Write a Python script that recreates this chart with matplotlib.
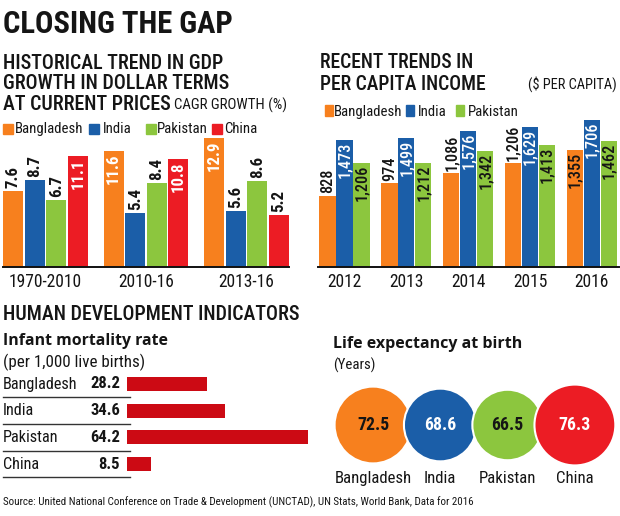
import matplotlib
matplotlib.use('Agg')
import matplotlib.pyplot as plt
from matplotlib import font_manager as fm
import matplotlib.transforms as mtransforms
from matplotlib.patches import Circle, Rectangle
import numpy as np

# ---------------- data ----------------
gdp_periods = ['1970-2010', '2010-16', '2013-16']
gdp_countries = ['Bangladesh', 'India', 'Pakistan', 'China']
gdp_bangladesh = [7.6, 11.6, 12.9]
gdp_india = [8.7, 5.4, 5.6]
gdp_pakistan = [6.7, 8.4, 8.6]
gdp_china = [11.1, 10.8, 5.2]

pci_years = ['2012', '2013', '2014', '2015', '2016']
pci_countries = ['Bangladesh', 'India', 'Pakistan']
pci_bangladesh = [828, 974, 1086, 1206, 1355]
pci_india = [1473, 1499, 1576, 1629, 1706]
pci_pakistan = [1206, 1212, 1342, 1413, 1462]

imr_countries = ['Bangladesh', 'India', 'Pakistan', 'China']
imr_values = [28.2, 34.6, 64.2, 8.5]

le_countries = ['Bangladesh', 'India', 'Pakistan', 'China']
le_values = [72.5, 68.6, 66.5, 76.3]

# ---------------- style ----------------
ORANGE = '#F7801E'
BLUE = '#1B5EA8'
GREEN = '#8CC63E'
RED = '#EC1C24'
DARKRED = '#CC0A14'
INK = '#151515'
COLORS = [ORANGE, BLUE, GREEN, RED]

names = {f.name for f in fm.fontManager.ttflist}


def has_bold(name):
    for f in fm.fontManager.ttflist:
        if f.name == name:
            w = f.weight
            if isinstance(w, str):
                if 'bold' in w.lower() or w.lower() in ('heavy', 'black'):
                    return True
            elif w >= 600:
                return True
    return False


NARROW = {}
for cand in ['Roboto Condensed', 'Liberation Sans Narrow', 'Open Sans Condensed']:
    if cand in names:
        NARROW = {'family': cand}
        break
if not NARROW:
    NARROW = {'family': 'Liberation Sans' if 'Liberation Sans' in names else 'DejaVu Sans'}

HUMAN = {'family': 'DejaVu Sans'}
for cand in ['Noto Sans', 'Open Sans', 'Lato', 'Roboto', 'DejaVu Sans']:
    if cand in names and has_bold(cand):
        HUMAN = {'family': cand}
        break

W, H = 620, 516
fig = plt.figure(figsize=(W / 100, H / 100), dpi=100)
fig.patch.set_facecolor('white')
renderer = fig.canvas.get_renderer()
PX = mtransforms.Affine2D().scale(1 / W, -1 / H).translate(0, 1) + fig.transFigure


def fit_size(s, width, **kw):
    t = fig.text(0, 0, s, fontsize=10, **kw)
    w = t.get_window_extent(renderer).width
    t.remove()
    return 10 * width / w


def txt(x, y, s, width, ha='left', va='baseline', color=INK, **kw):
    size = fit_size(s, width, **kw)
    return fig.text(x, y, s, transform=PX, fontsize=size, ha=ha, va=va, color=color, **kw)


def axes_px(x0, y0, x1, y1):
    return fig.add_axes([x0 / W, 1 - y1 / H, (x1 - x0) / W, (y1 - y0) / H])


def clean(ax, bottom=False):
    for k, sp in ax.spines.items():
        sp.set_visible(k == 'bottom' and bottom)
    ax.spines['bottom'].set_color('#111111')
    ax.spines['bottom'].set_linewidth(1.4)
    ax.set_xticks([])
    ax.set_yticks([])
    ax.patch.set_alpha(0)


# ---------------- headings ----------------
txt(3, 33, 'CLOSING THE GAP', 229, fontweight='bold', **NARROW)
sub_size = fit_size('HISTORICAL TREND IN GDP', 219, fontweight='medium', **NARROW)
for yb, line in zip([69, 89, 110], ['HISTORICAL TREND IN GDP', 'GROWTH IN DOLLAR TERMS', 'AT CURRENT PRICES']):
    fig.text(3, yb, line, transform=PX, fontsize=sub_size, color=INK, va='baseline',
             fontweight='medium', **NARROW)
txt(174, 110, 'CAGR GROWTH (%)', 113, **NARROW)

# legend left
leg_items = [(3, 15), (89, 103), (146, 157), (212, 224)]
lsize = fit_size('Bangladesh', 68, **NARROW)
for (sx, tx), name, c in zip(leg_items, gdp_countries, COLORS):
    fig.patches.append(Rectangle((sx, 124), 10, 10, transform=PX, color=c))
    fig.text(tx, 133, name, transform=PX, fontsize=lsize, color=INK, va='baseline', **NARROW)

# ---------------- left bar chart ----------------
axL = axes_px(3, 130, 289, 267)
clean(axL, bottom=True)
xg = np.arange(len(gdp_periods))
step, bw = 0.214, 0.199
vsize = fit_size('11.1', 31, fontweight='bold', **NARROW)
for i, (vals, c) in enumerate(zip([gdp_bangladesh, gdp_india, gdp_pakistan, gdp_china], COLORS)):
    xs = xg + (i - 1.5) * step
    axL.bar(xs, vals, width=bw, color=c)
    for x, v in zip(xs, vals):
        if v > 10:
            axL.text(x, v - 0.25, f'{v:.1f}', rotation=90, ha='center', va='top',
                     color='white', fontsize=vsize, fontweight='bold', **NARROW)
        else:
            axL.text(x, v + 0.3, f'{v:.1f}', rotation=90, ha='center', va='bottom',
                     color=INK, fontsize=vsize, fontweight='bold', **NARROW)
axL.set_xlim(-0.423, 2.423)
axL.set_ylim(0, 13.7)
bL = mtransforms.blended_transform_factory(axL.transData, PX)
psize = fit_size('1970-2010', 73, **NARROW)
for x, lab in zip(xg, gdp_periods):
    axL.text(x, 287, lab, transform=bL, ha='center', va='baseline', fontsize=psize, color=INK, **NARROW)

# ---------------- right headings ----------------
rsize = fit_size('RECENT TRENDS IN', 153, fontweight='medium', **NARROW)
fig.text(320, 68, 'RECENT TRENDS IN', transform=PX, fontsize=rsize, color=INK, fontweight='medium', **NARROW)
fig.text(320, 90, 'PER CAPITA INCOME', transform=PX, fontsize=rsize, color=INK, fontweight='medium', **NARROW)
txt(528, 89, '($ PER CAPITA)', 89, **NARROW)
leg2 = [(325, 334), (406, 418), (456, 468)]
for (sx, tx), name, c in zip(leg2, pci_countries, COLORS):
    fig.patches.append(Rectangle((sx, 105), 8, 11, transform=PX, color=c))
    fig.text(tx, 116, name, transform=PX, fontsize=lsize, color=INK, va='baseline', **NARROW)

# ---------------- right bar chart ----------------
axR = axes_px(318, 115, 619, 267)
clean(axR, bottom=True)
xr = np.arange(len(pci_years))
step2 = 0.274
nsize = fit_size('1,473', 36, fontweight='medium', **NARROW)
for i, (vals, c) in enumerate(zip([pci_bangladesh, pci_india, pci_pakistan], COLORS)):
    xs = xr + (i - 1) * step2
    axR.bar(xs, vals, width=step2 * 0.97, color=c)
    for x, v in zip(xs, vals):
        lab = f'{v:,}'
        if i == 0 and v < 1300:
            axR.text(x, v + 25, lab, rotation=90, ha='center', va='bottom', color=INK,
                     fontsize=nsize, fontweight='medium', **NARROW)
        else:
            axR.text(x, v - 20, lab, rotation=90, ha='center', va='top',
                     color='white' if i == 1 else INK, fontsize=nsize, fontweight='medium', **NARROW)
axR.set_xlim(-0.427, 4.44)
axR.set_ylim(0, 1763)
bR = mtransforms.blended_transform_factory(axR.transData, PX)
for x, lab in zip(xr, pci_years):
    axR.text(x, 287, lab, transform=bR, ha='center', va='baseline', fontsize=psize, color=INK, **NARROW)

# ---------------- human development ----------------
txt(3, 320, 'HUMAN DEVELOPMENT INDICATORS', 295, fontweight='medium', **NARROW)
txt(3, 345, 'Infant mortality rate', 165, fontweight='bold', **HUMAN)
txt(3, 367, '(per 1,000 live births)', 140, **NARROW)

axI = axes_px(127, 370, 320, 480)
clean(axI)
yi = np.arange(len(imr_countries))
axI.barh(yi, imr_values, height=0.525, color=DARKRED)
axI.set_xlim(0, 193 / 2.82)
axI.set_ylim((480 - 384) / 26.67, (370 - 384) / 26.67)
bI = mtransforms.blended_transform_factory(PX, axI.transData)
csize = fit_size('Bangladesh', 75, **NARROW)
isize = fit_size('28.2', 30, fontweight='bold', **NARROW)
for y, name, v in zip(yi, imr_countries, imr_values):
    axI.text(3, y, name, transform=bI, ha='left', va='center', fontsize=csize, color=INK, **NARROW)
    axI.text(120, y, f'{v:.1f}', transform=bI, ha='right', va='center', fontsize=isize,
             color=INK, fontweight='bold', **NARROW)
    axI.plot([3, 130], [y + 0.5, y + 0.5], transform=bI, color='#333333', lw=1, clip_on=False)

# ---------------- life expectancy ----------------
txt(333, 348, 'Life expectancy at birth', 190, fontweight='bold', **HUMAN)
txt(333, 370, '(Years)', 42, **NARROW)

axC = axes_px(330, 380, 620, 470)
clean(axC)
axC.set_xlim(0, 290)
axC.set_ylim(0, 90)
bC = mtransforms.blended_transform_factory(axC.transData, PX)
lsz = fit_size('72.5', 32, fontweight='bold', **NARROW)
nsz = fit_size('Bangladesh', 77, **NARROW)
for i, (name, v, c) in enumerate(zip(le_countries, le_values, COLORS)):
    cx = 43 + i * 67.3
    axC.add_patch(Circle((cx, 45), v * 0.53, facecolor=c, edgecolor='white', lw=1.5,
                         zorder=2 + i, clip_on=False))
    axC.text(cx, 45, f'{v:.1f}', ha='center', va='center', fontsize=lsz, fontweight='bold',
             color='white' if c in (BLUE, RED) else INK, zorder=10, **NARROW)
    axC.text(cx, 483, name, transform=bC, ha='center', va='baseline', fontsize=nsz, color=INK, **NARROW)

# ---------------- source ----------------
txt(3, 505, 'Source: United National Conference on Trade & Development (UNCTAD), UN Stats, World Bank, Data for 2016',
    469, **NARROW)

fig.savefig('out.png', dpi=100, facecolor='white')
